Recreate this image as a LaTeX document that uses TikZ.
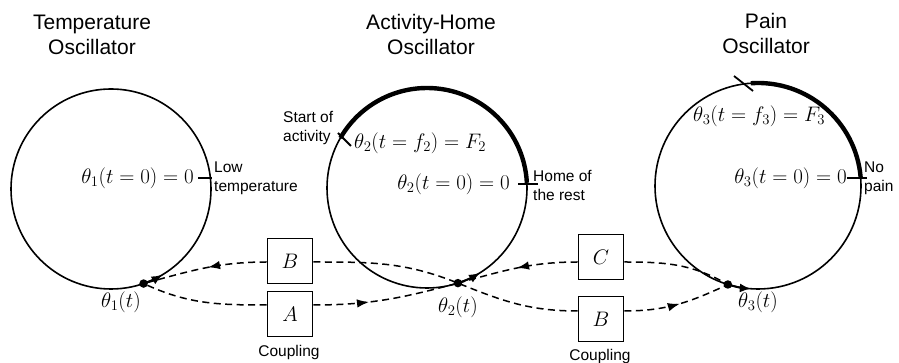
\documentclass[tikz,border=0pt]{standalone}
\usepackage{fix-cm}
\usepackage[no-math]{fontspec}
\setmainfont{Liberation Sans}
\usetikzlibrary{arrows.meta,decorations.markings}
\begin{document}
\begin{tikzpicture}[x=1pt,y=1pt,
  circ/.style={line width=1.6pt},
  heavyarc/.style={line width=4.4pt},
  tickline/.style={line width=1.8pt},
  box/.style={draw, line width=1.6pt, minimum size=45pt, inner sep=0pt, font=\fontsize{21}{25}\selectfont},
  dsh/.style={dash pattern=on 7pt off 4.5pt, line width=1.5pt},
  arrowat/.style={decoration={markings, mark=at position #1 with {\arrow{Latex[length=12pt,width=8.5pt]}}}, postaction={decorate}},
  midarrow/.style={arrowat=0.5},
  dotnode/.style={circle, fill, inner sep=0pt, minimum size=8.5pt},
  title/.style={align=center, font=\fontsize{21}{25}\selectfont},
  small/.style={inner sep=0pt, font=\fontsize{15.5}{19}\selectfont},
  mlab/.style={inner sep=0pt, font=\fontsize{21}{25}\selectfont},
  tipcirc/.style={line width=2pt, -{Latex[length=11pt,width=9pt]}}
]
\useasboundingbox (0,0) rectangle (899,363);
% centres
\coordinate (c1) at (111,174);
\coordinate (c2) at (427,175);
\coordinate (c3) at (758,177);
% titles
\node[title] (t1) at (92,328) {Temperature\\Oscillator};
\node[title] (t2) at (431,328) {Activity-Home\\Oscillator};
\node[title] (t3) at (766,329) {Pain\\Oscillator};
% circles
\draw[circ] (c1) circle (100);
\draw[circ] (c2) circle (100);
\draw[circ] (c3) circle (103);
% heavy arcs
\draw[heavyarc] (c2) ++(3:100) arc[start angle=3, end angle=150, radius=100];
\draw[heavyarc] (c3) ++(5:103) arc[start angle=5, end angle=94, radius=103];
% ticks
\coordinate (k1a) at (198,185); \coordinate (k1b) at (212,185);
\draw[tickline] (k1a) -- (k1b);
\coordinate (k2a) at (338,230); \coordinate (k2b) at (351,217);
\draw[tickline] (k2a) -- (k2b);
\coordinate (k2c) at (518,179); \coordinate (k2d) at (538,179);
\draw[tickline] (k2c) -- (k2d);
\coordinate (k3a) at (734,287); \coordinate (k3b) at (753,272);
\draw[tickline] (k3a) -- (k3b);
\coordinate (k3c) at (847,185); \coordinate (k3d) at (867,185);
\draw[tickline] (k3c) -- (k3d);
% labels
\node[mlab, anchor=east] (e1) at (194,185) {$\theta_1(t=0)=0$};
\node[small, anchor=west, align=left] (lt) at (214,185) {Low\\temperature};
\node[small, anchor=west, align=left] (sa) at (283,235) {Start of\\activity};
\node[mlab, anchor=west] (f2) at (354,220) {$\theta_2(t=f_2)=F_2$};
\node[mlab, anchor=east] (e2) at (510,179) {$\theta_2(t=0)=0$};
\node[small, anchor=west, align=left] (hr) at (533,178) {Home of\\the rest};
\node[mlab, anchor=west] (f3) at (693,247) {$\theta_3(t=f_3)=F_3$};
\node[mlab, anchor=east] (e3) at (847,185) {$\theta_3(t=0)=0$};
\node[small, anchor=west, align=left] (np) at (864,185) {No\\pain};
% phase points
\path (c1) ++(-71:100) coordinate (d1);
\path (c2) ++(-72:100) coordinate (d2);
\path (c3) ++(-107:103) coordinate (d3);
\node[mlab] (p1) at (121,61) {$\theta_1(t)$};
\node[mlab] (p2) at (458,56) {$\theta_2(t)$};
\node[mlab] (p3) at (758,61) {$\theta_3(t)$};
% coupling boxes
\node[box] (B1) at (290,102) {$B$};
\node[box] (A1) at (290,49) {$A$};
\node[box] (C) at (601,106) {$C$};
\node[box] (B2) at (601,44) {$B$};
\node[small] (cp1) at (289,11) {Coupling};
\node[small] (cp2) at (600,7) {Coupling};
% dashed couplings
\draw[dsh, arrowat=0.47] (B1.west |- 0,101) to[out=180, in=15] (d1);
\draw[dsh] (A1.west |- 0,58) to[out=180, in=-25] (d1);
\draw[dsh] (B1.east |- 0,101) to[out=0, in=158] (d2) to[out=-22, in=180] (B2.west |- 0,52);
\draw[dsh, arrowat=0.38] (A1.east |- 0,58) to[out=0, in=195] (d2);
\draw[dsh, midarrow] (C.west |- 0,101) to[out=180, in=15] (d2);
\draw[dsh, arrowat=0.52] (B2.east |- 0,52) to[out=0, in=205] (d3);
\draw[dsh] (C.east |- 0,101) to[out=0, in=150] (d3);
% motion arrows on circles
\draw[tipcirc] (d1) arc[start angle=-71, end angle=-59, radius=100];
\draw[tipcirc] (d2) arc[start angle=-72, end angle=-58, radius=100];
\draw[tipcirc] (d3) arc[start angle=-107, end angle=-94, radius=103];
\node[dotnode] (n1) at (d1) {};
\node[dotnode] (n2) at (d2) {};
\node[dotnode] (n3) at (d3) {};
\end{tikzpicture}
\end{document}
